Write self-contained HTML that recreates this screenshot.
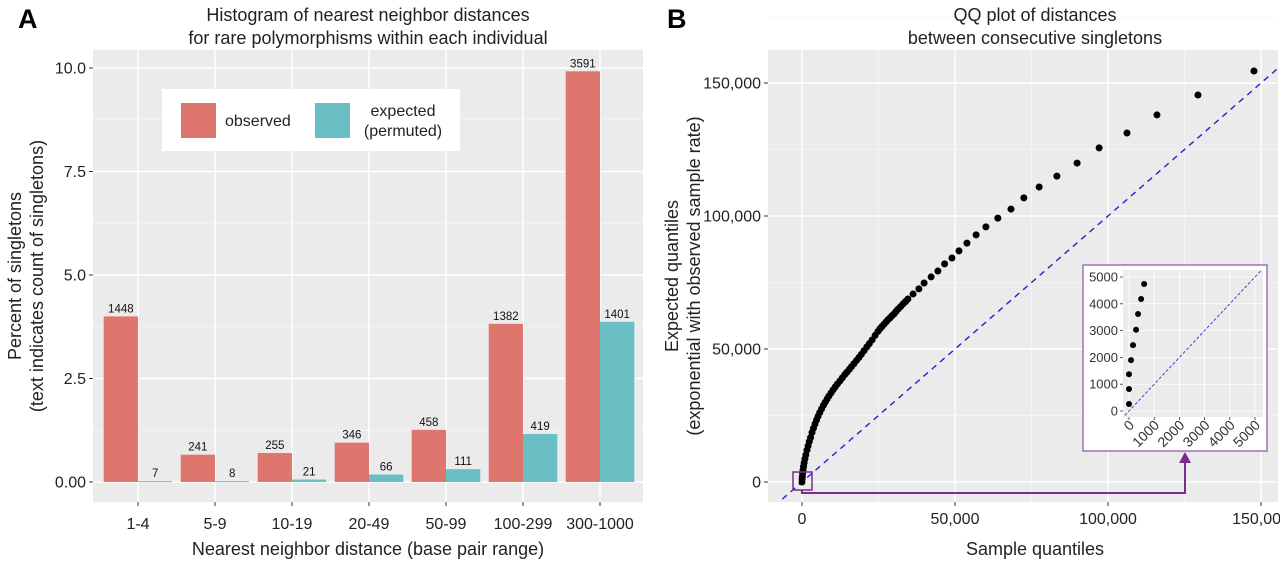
<!DOCTYPE html>
<html><head><meta charset="utf-8"><style>
body{margin:0;background:#fff;}
svg{display:block;font-family:"Liberation Sans",Arial,sans-serif;}
</style></head><body>
<svg id="fig" width="1280" height="563" viewBox="0 0 1280 563">
<g id="pa"></g>
<g id="pb"></g>
</svg>
<script>
const categories=["1-4","5-9","10-19","20-49","50-99","100-299","300-1000"];
const observedPct=[4.0,0.66,0.70,0.95,1.26,3.82,9.92];
const expectedPct=[0.02,0.02,0.06,0.18,0.31,1.16,3.87];
const observedCount=[1448,241,255,346,458,1382,3591];
const expectedCount=[7,8,21,66,111,419,1401];
const yTicksA=[0,2.5,5,7.5,10];
const yTickLabelsA=["0.00","2.5","5.0","7.5","10.0"];

const qqSample=[0,0.05,0.1,0.2,0.33,0.5,0.7,0.95,1.25,1.63,2.0,2.4,2.8,3.27,3.75,4.25,4.75,5.25,5.8,6.4,7.0,7.6,8.2,8.8,9.5,10.2,10.9,11.6,12.4,13.2,14.0,14.7,15.5,16.2,17.0,17.8,18.6,19.4,20.3,21.2,22.0,22.9,23.9,24.8,25.5,26.1,26.8,27.5,28.1,28.8,29.4,30.1,30.7,31.4,32.2,33.0,33.8,34.6,36.3,38.2,39.9,42.2,44.4,46.6,49.0,51.3,53.9,56.9,60.1,64.0,68.3,72.5,77.5,83.3,89.9,97.1,106.2,116.0,129.4,147.7];
const qqExpected=[0,1.2,2.0,3.2,4.5,5.8,7.2,8.7,10.2,12.0,13.6,15.2,16.7,18.6,20.2,21.8,23.3,24.7,26.1,27.5,28.8,30.0,31.2,32.3,33.5,34.7,35.8,36.9,38.0,39.2,40.4,41.3,42.4,43.4,44.5,45.7,46.8,48.0,49.4,50.8,52.0,53.4,55.1,56.6,57.6,58.4,59.3,60.2,61.0,61.7,62.5,63.2,64.1,65.0,65.9,66.9,67.8,68.8,70.7,72.6,74.8,77.1,79.3,82.0,84.2,86.9,89.8,92.9,95.9,99.2,102.6,106.8,110.9,115.0,119.9,125.6,131.2,138.0,145.5,154.5];
const insetSample=[0,0,0,80,160,280,360,480,600];
const insetExpected=[260,820,1370,1900,2460,3030,3620,4180,4740];
const xTicksB=[0,50,100,150];
const xTickLabelsB=["0","50,000","100,000","150,000"];
const yTicksB=[0,50,100,150];
const yTickLabelsB=["0","50,000","100,000","150,000"];
const insetTicks=[0,1000,2000,3000,4000,5000];

const NS="http://www.w3.org/2000/svg";
function mk(p,tag,attrs,txt){const e=document.createElementNS(NS,tag);for(const k in attrs)e.setAttribute(k,attrs[k]);if(txt!==undefined)e.textContent=txt;p.appendChild(e);return e;}

// ---- Panel A
const pa=document.getElementById('pa');
const A={l:93,r:643,t:50,b:502};
const xA=i=>138+77*i;
const yA=v=>482-v*41.4;
let e;
e=mk(pa,'rect',{x:A.l,y:A.t,width:A.r-A.l,height:A.b-A.t,fill:'#ebebeb'});


yTicksA.forEach((v,i)=>{
  if(i<yTicksA.length-1){const m=(v+yTicksA[i+1])/2;mk(pa,'line',{x1:A.l,x2:A.r,y1:yA(m),y2:yA(m),stroke:'#f7f7f7','stroke-width':0.7});}
  mk(pa,'line',{x1:A.l,x2:A.r,y1:yA(v),y2:yA(v),stroke:'#fff','stroke-width':1.4});
  mk(pa,'line',{x1:A.l-4,x2:A.l,y1:yA(v),y2:yA(v),stroke:'#333','stroke-width':1});
  e=mk(pa,'text',{x:A.l-7,y:yA(v)+5.5,'text-anchor':'end','font-size':16,fill:'#222'},yTickLabelsA[i]);
  
  
});
categories.forEach((c,i)=>{
  mk(pa,'line',{x1:xA(i),x2:xA(i),y1:A.t,y2:A.b,stroke:'#fff','stroke-width':1.4});
  mk(pa,'line',{x1:xA(i),x2:xA(i),y1:A.b,y2:A.b+4,stroke:'#333','stroke-width':1});
  e=mk(pa,'text',{x:xA(i),y:529,'text-anchor':'middle','font-size':16,fill:'#222'},c);
  
  
});
const bw=34.3;
categories.forEach((c,i)=>{
  e=mk(pa,'rect',{x:xA(i)-bw,y:yA(observedPct[i]),width:bw,height:yA(0)-yA(observedPct[i]),fill:'#df766e'});
  
  
  e=mk(pa,'rect',{x:xA(i),y:yA(expectedPct[i]),width:bw,height:Math.max(1,yA(0)-yA(expectedPct[i])),fill:'#69bfc3'});
  
  
  e=mk(pa,'text',{x:xA(i)-bw/2,y:yA(observedPct[i])-4,'text-anchor':'middle','font-size':11.5,fill:'#111'},observedCount[i]);
  
  
  e=mk(pa,'text',{x:xA(i)+bw/2,y:yA(expectedPct[i])-4,'text-anchor':'middle','font-size':11.5,fill:'#111'},expectedCount[i]);
  
  
});
// legend
const lg=mk(pa,'g',{});


mk(lg,'rect',{x:162,y:89,width:298,height:62,fill:'#fff'});
mk(lg,'rect',{x:181,y:103,width:35,height:35,fill:'#df766e'});
mk(lg,'text',{x:225,y:126,'font-size':16,fill:'#222'},'observed');
mk(lg,'rect',{x:315,y:103,width:35,height:35,fill:'#69bfc3'});
mk(lg,'text',{x:403,y:116,'font-size':16,fill:'#222','text-anchor':'middle'},'expected');
mk(lg,'text',{x:403,y:136,'font-size':16,fill:'#222','text-anchor':'middle'},'(permuted)');
e=mk(pa,'text',{x:368,y:21,'text-anchor':'middle','font-size':18,fill:'#222'},'Histogram of nearest neighbor distances');


mk(pa,'text',{x:368,y:44,'text-anchor':'middle','font-size':18,fill:'#222'},'for rare polymorphisms within each individual');
e=mk(pa,'text',{x:18,y:28,'font-size':27,'font-weight':'bold',fill:'#000'},'A');


e=mk(pa,'text',{x:368,y:555,'text-anchor':'middle','font-size':18,fill:'#222'},'Nearest neighbor distance (base pair range)');


e=mk(pa,'text',{x:0,y:0,'text-anchor':'middle','font-size':18,fill:'#222',transform:'translate(21,276) rotate(-90)'},'Percent of singletons');


mk(pa,'text',{x:0,y:0,'text-anchor':'middle','font-size':18,fill:'#222',transform:'translate(43,276) rotate(-90)'},'(text indicates count of singletons)');

// ---- Panel B
const pb=document.getElementById('pb');
const B={l:768,r:1278,t:50,b:502};
const xB=v=>802+v*153/50;
const yB=v=>482-v*133/50;
e=mk(pb,'rect',{x:B.l,y:B.t,width:B.r-B.l,height:B.b-B.t,fill:'#ebebeb'});


const cp=mk(pb,'clipPath',{id:'cb'});mk(cp,'rect',{x:B.l,y:B.t,width:B.r-B.l,height:B.b-B.t});
xTicksB.forEach((v,i)=>{
  mk(pb,'line',{x1:xB(v+25),x2:xB(v+25),y1:B.t,y2:B.b,stroke:'#f7f7f7','stroke-width':0.7});
  mk(pb,'line',{x1:xB(v),x2:xB(v),y1:B.t,y2:B.b,stroke:'#fff','stroke-width':1.4});
  mk(pb,'line',{x1:xB(v),x2:xB(v),y1:B.b,y2:B.b+4,stroke:'#333'});
  e=mk(pb,'text',{x:xB(v),y:524,'text-anchor':'middle','font-size':16,fill:'#222'},xTickLabelsB[i]);
  
  
});
yTicksB.forEach((v,i)=>{
  mk(pb,'line',{x1:B.l,x2:B.r,y1:yB(v+25),y2:yB(v+25),stroke:'#f7f7f7','stroke-width':0.7});
  mk(pb,'line',{x1:B.l,x2:B.r,y1:yB(v),y2:yB(v),stroke:'#fff','stroke-width':1.4});
  mk(pb,'line',{x1:B.l-4,x2:B.l,y1:yB(v),y2:yB(v),stroke:'#333'});
  e=mk(pb,'text',{x:B.l-7,y:yB(v)+5.5,'text-anchor':'end','font-size':16,fill:'#222'},yTickLabelsB[i]);
  
  
});
e=mk(pb,'line',{x1:xB(-20),y1:yB(-20),x2:xB(170),y2:yB(170),stroke:'#2222cc','stroke-width':1.4,'stroke-dasharray':'6,5','clip-path':'url(#cb)'});


qqSample.forEach((s,i)=>{
  e=mk(pb,'circle',{cx:xB(s),cy:yB(qqExpected[i]),r:3.5,fill:'#000'});
  
  
});
// zoom box & arrow
e=mk(pb,'rect',{x:793,y:472,width:19,height:18,fill:'none',stroke:'#7b2d8e','stroke-width':1.5});


e=mk(pb,'polyline',{points:'802,490 802,493 1185,493 1185,462',fill:'none',stroke:'#7b2d8e','stroke-width':2});


mk(pb,'polygon',{points:'1179,463 1191,463 1185,452',fill:'#7b2d8e'});
// inset
const ins=mk(pb,'g',{});


mk(ins,'rect',{x:1083,y:265,width:184,height:186,fill:'#fff',stroke:'#a070b5','stroke-width':1.5});
const I={l:1123,r:1263,t:270,b:417};
const xI=v=>1129+v*25.2/1000;
const yI=v=>411-v*26.8/1000;
mk(ins,'rect',{x:I.l,y:I.t,width:I.r-I.l,height:I.b-I.t,fill:'#ebebeb'});
const ci=mk(ins,'clipPath',{id:'ci'});mk(ci,'rect',{x:I.l,y:I.t,width:I.r-I.l,height:I.b-I.t});
insetTicks.forEach(v=>{
  mk(ins,'line',{x1:xI(v),x2:xI(v),y1:I.t,y2:I.b,stroke:'#fff','stroke-width':0.8});
  mk(ins,'line',{x1:I.l,x2:I.r,y1:yI(v),y2:yI(v),stroke:'#fff','stroke-width':0.8});
  mk(ins,'line',{x1:I.l-3,x2:I.l,y1:yI(v),y2:yI(v),stroke:'#333','stroke-width':0.8});
  mk(ins,'line',{x1:xI(v),x2:xI(v),y1:I.b,y2:I.b+3,stroke:'#333','stroke-width':0.8});
  e=mk(ins,'text',{x:I.l-5,y:yI(v)+4.5,'text-anchor':'end','font-size':13,fill:'#333'},v);
  
  
  e=mk(ins,'text',{x:0,y:0,'text-anchor':'end','font-size':14,fill:'#333',transform:`translate(${xI(v)+6},${I.b+9}) rotate(-45)`},v);
  
  
});
mk(ins,'line',{x1:xI(-300),y1:yI(-300),x2:xI(5500),y2:yI(5500),stroke:'#3333cc','stroke-width':0.9,'stroke-dasharray':'3,2','clip-path':'url(#ci)'});
insetSample.forEach((s,i)=>{
  e=mk(ins,'circle',{cx:xI(s),cy:yI(insetExpected[i]),r:3,fill:'#000'});
  
  
});
e=mk(pb,'text',{x:1035,y:21,'text-anchor':'middle','font-size':18,fill:'#222'},'QQ plot of distances');


mk(pb,'text',{x:1035,y:44,'text-anchor':'middle','font-size':18,fill:'#222'},'between consecutive singletons');
e=mk(pb,'text',{x:667,y:28,'font-size':27,'font-weight':'bold',fill:'#000'},'B');


e=mk(pb,'text',{x:1035,y:555,'text-anchor':'middle','font-size':18,fill:'#222'},'Sample quantiles');


e=mk(pb,'text',{x:0,y:0,'text-anchor':'middle','font-size':18,fill:'#222',transform:'translate(678,276) rotate(-90)'},'Expected quantiles');


mk(pb,'text',{x:0,y:0,'text-anchor':'middle','font-size':18,fill:'#222',transform:'translate(700,276) rotate(-90)'},'(exponential with observed sample rate)');
</script>
</body></html>
